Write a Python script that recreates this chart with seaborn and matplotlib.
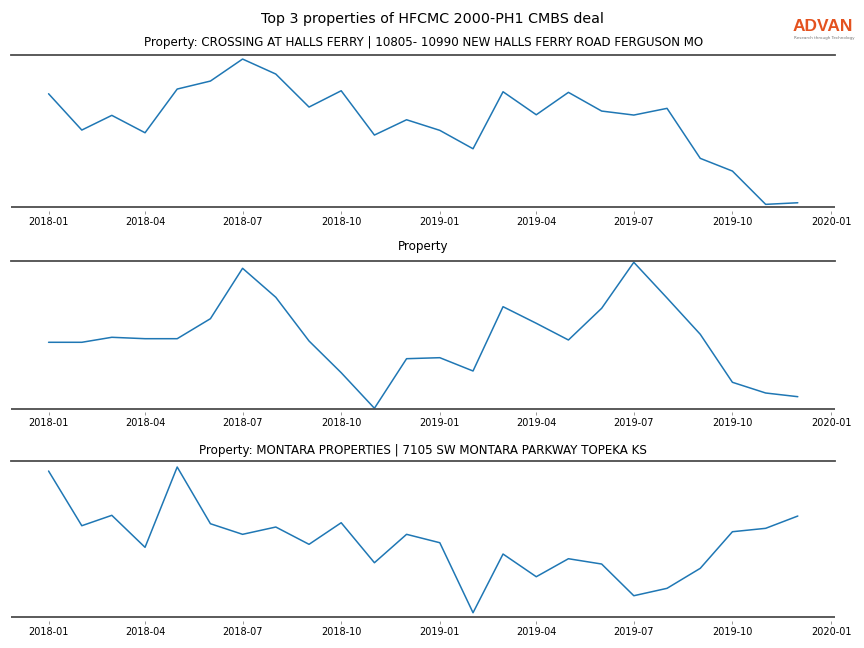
import pandas as pd
import matplotlib
matplotlib.use("Agg")
import matplotlib.pyplot as plt
import matplotlib.dates as mdates
import seaborn as sns

# -----------------------------------
# Data (monthly values, arbitrary units)
# -----------------------------------

months = pd.date_range("2018-01-01", "2019-12-01", freq="MS")

titles = [
    "Property: CROSSING AT HALLS FERRY | 10805- 10990 NEW HALLS FERRY ROAD FERGUSON MO",
    "Property",
    "Property: MONTARA PROPERTIES | 7105 SW MONTARA PARKWAY TOPEKA KS",
]

halls_ferry = [113.6, 77.3, 92.0, 74.6, 118.3, 126.3, 148.3, 133.3, 100.3, 116.6, 72.3, 87.6,
               77.0, 58.6, 115.6, 92.6, 115.0, 96.3, 92.3, 99.0, 49.0, 36.3, 3.0, 4.6]
unnamed = [66.4, 66.4, 71.4, 70.0, 70.0, 90.0, 140.4, 111.4, 67.7, 36.0, 0.4, 50.0,
           51.0, 37.7, 102.0, 85.4, 68.7, 100.4, 146.4, 110.7, 74.4, 26.4, 15.7, 12.0]
montara = [146.0, 91.3, 101.7, 69.7, 150.0, 93.3, 82.7, 90.0, 72.7, 94.3, 54.3, 82.7,
           74.3, 4.3, 63.0, 40.3, 58.3, 53.0, 21.3, 28.7, 48.7, 85.3, 88.7, 101.0]

series = [halls_ferry, unnamed, montara]
y_tops = [152.6, 148.0, 156.3]

# -----------------------------------
# Figure
# -----------------------------------

sns.set_style("white")
plt.rcParams['font.family'] = ['DejaVu Sans']
plt.rcParams['text.color'] = 'black'
plt.rcParams['xtick.color'] = 'black'

fig = plt.figure(figsize=(8.64, 6.48), dpi=100)

# the baseline sits a few pixels above the real axes edge, so ticks look detached
gap = 3.5
gap_frac = gap / 648

# left, bottom, width, height in figure fraction (bottom = baseline position)
positions = [
    [0.0128, 0.680, 0.954, 0.2355],
    [0.0128, 0.3693, 0.954, 0.2284],
    [0.0128, 0.0478, 0.954, 0.2412],
]
title_pads = [6, 7.5, 4.5]

for pos, title, vals, ytop, tpad in zip(positions, titles, series, y_tops, title_pads):
    left, bottom, width, height = pos
    ax = fig.add_axes([left, bottom - gap_frac, width, height + gap_frac])
    df = pd.DataFrame({"month": months, "value": vals})
    sns.lineplot(data=df, x="month", y="value", ax=ax, color="#1f77b4", linewidth=1.1)
    ax.axhline(0, color="#4d4d4d", linewidth=1.3)
    ax.set_ylim(-gap, ytop)
    ax.set_xlim(pd.Timestamp("2017-11-27"), pd.Timestamp("2020-01-05"))
    ax.set_title(title, fontsize=8.55, pad=tpad)
    ax.set_xlabel("")
    ax.set_ylabel("")
    ax.set_yticks([])
    ax.xaxis.set_major_locator(mdates.MonthLocator(bymonth=[1, 4, 7, 10]))
    ax.xaxis.set_major_formatter(mdates.DateFormatter("%Y-%m"))
    ax.tick_params(axis="x", labelsize=7, length=2.5, width=0.6, color="#888888",
                   pad=2, bottom=True)
    for side in ["left", "right", "bottom"]:
        ax.spines[side].set_visible(False)
    ax.spines["top"].set_visible(True)
    ax.spines["top"].set_color("#4d4d4d")
    ax.spines["top"].set_linewidth(1.3)

fig.suptitle("Top 3 properties of HFCMC 2000-PH1 CMBS deal", fontsize=10.3, y=0.982)

# logo
fig.text(0.9525, 0.959, "ADVAN", color="#e4521f", fontsize=12.5, fontweight="bold",
         family="Liberation Sans", ha="center", va="center")
fig.text(0.954, 0.941, "Research through Technology", color="#777777", fontsize=3,
         ha="center", va="center")

fig.savefig("out.png", dpi=100)
plt.close(fig)
